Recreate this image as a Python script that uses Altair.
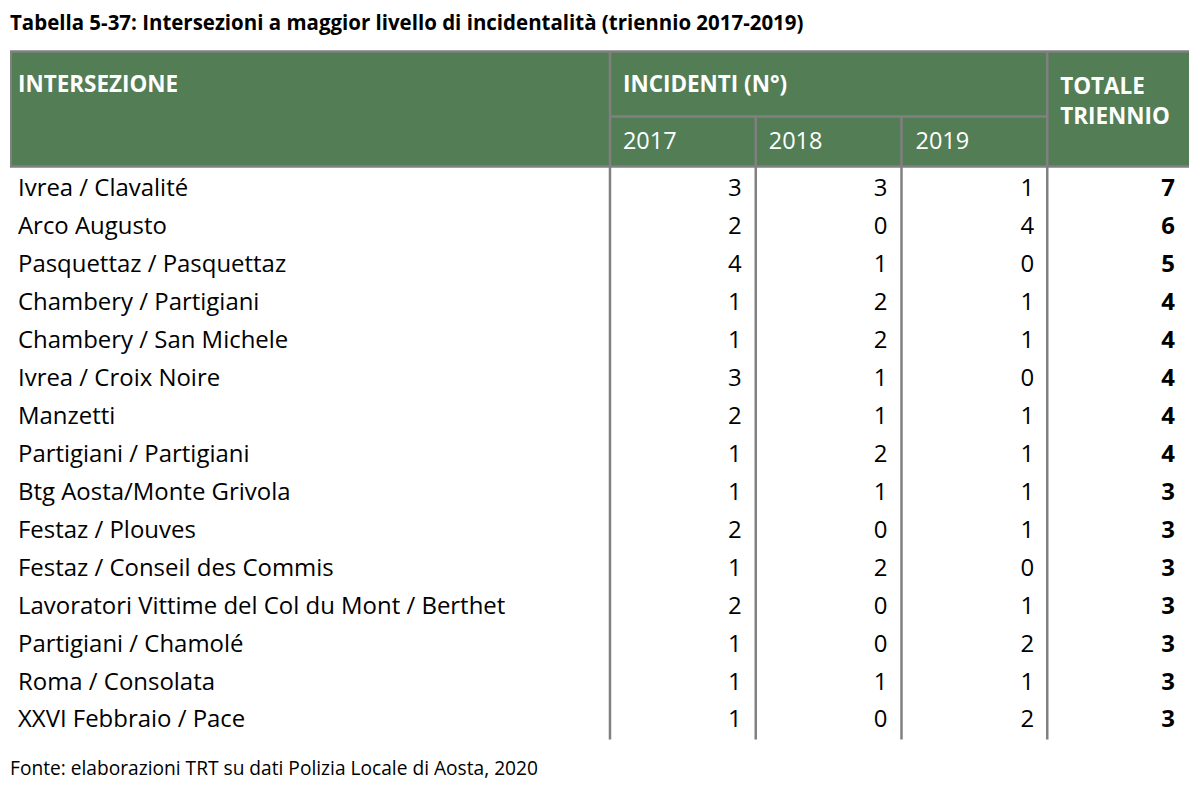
import altair as alt
import pandas as pd

# ---- data ----
intersezioni = [
    "Ivrea / Clavalité", "Arco Augusto", "Pasquettaz / Pasquettaz",
    "Chambery / Partigiani", "Chambery / San Michele", "Ivrea / Croix Noire",
    "Manzetti", "Partigiani / Partigiani", "Btg Aosta/Monte Grivola",
    "Festaz / Plouves", "Festaz / Conseil des Commis",
    "Lavoratori Vittime del Col du Mont / Berthet", "Partigiani / Chamolé",
    "Roma / Consolata", "XXVI Febbraio / Pace",
]
v2017 = [3, 2, 4, 1, 1, 3, 2, 1, 1, 2, 1, 2, 1, 1, 1]
v2018 = [3, 0, 1, 2, 2, 1, 1, 2, 1, 0, 2, 0, 0, 1, 0]
v2019 = [1, 4, 0, 1, 1, 0, 1, 1, 1, 1, 0, 1, 2, 1, 2]
totale = [7, 6, 5, 4, 4, 4, 4, 4, 3, 3, 3, 3, 3, 3, 3]
anni = ["2017", "2018", "2019"]

titolo = "Tabella 5-37: Intersezioni a maggior livello di incidentalità (triennio 2017-2019)"
fonte = "Fonte: elaborazioni TRT su dati Polizia Locale di Aosta, 2020"

# ---- style / layout ----
W, H = 1184, 778
GREEN = "#527D55"
GRID = "#808080"
FONT = "Open Sans"
LW = 2.5

df = pd.DataFrame({
    "row": list(range(len(intersezioni))),
    "nome": intersezioni,
    "a2017": v2017, "a2018": v2018, "a2019": v2019,
    "tot": totale,
})

yrow = alt.Y("row:Q", scale=alt.Scale(domain=[0, len(intersezioni) - 1], range=[181, 713]), axis=None)

base = alt.Chart(df)
one = alt.Chart(pd.DataFrame({"k": [0]}))

def rect(x, x2, y, y2, color):
    return one.mark_rect(color=color).encode(
        x=alt.value(x), x2=alt.value(x2), y=alt.value(y), y2=alt.value(y2))

def rule(x, x2, y, y2, w=LW):
    return one.mark_rule(color=GRID, strokeWidth=w).encode(
        x=alt.value(x), x2=alt.value(x2), y=alt.value(y), y2=alt.value(y2))

def label(txt, x, y, size, bold=False, color="#000000", align="left"):
    return one.mark_text(text=txt, font=FONT, fontSize=size,
                         fontWeight="bold" if bold else "normal",
                         color=color, align=align, baseline="middle").encode(
        x=alt.value(x), y=alt.value(y))

layers = [
    rect(0, 1181, 43, 158, GREEN),
    rule(0, 1181, 43, 43),
    rule(0, 1181, 158, 158),
    rule(1, 1, 43, 158, 2),
    rule(601, 1039, 108, 108),
    rule(601, 601, 43, 732),
    rule(747, 747, 108, 732),
    rule(893, 893, 108, 732),
    rule(1039, 1039, 43, 732),
    label(titolo, 0, 15, 20.5, bold=True),
    label("INTERSEZIONE", 8, 76, 22.5, bold=True, color="white"),
    label("INCIDENTI (N°)", 614, 76, 22.5, bold=True, color="white"),
    label("TOTALE", 1052, 78, 22.5, bold=True, color="white"),
    label("TRIENNIO", 1052, 109, 22.5, bold=True, color="white"),
    label(fonte, 0, 762, 19.2),
]
for a, xx in zip(anni, [614, 760, 907]):
    layers.append(label(a, xx, 134, 23.5, color="white"))

txt = dict(font=FONT, fontSize=24, baseline="middle", color="#000000")
layers.append(base.mark_text(align="left", **txt).encode(x=alt.value(8), y=yrow, text="nome:N"))
for col, xx in zip(["a2017", "a2018", "a2019"], [733, 879, 1026]):
    layers.append(base.mark_text(align="right", **txt).encode(x=alt.value(xx), y=yrow, text=f"{col}:Q"))
layers.append(base.mark_text(align="right", fontWeight="bold", **txt).encode(
    x=alt.value(1167), y=yrow, text="tot:Q"))

chart = alt.layer(*layers).properties(width=W, height=H, padding=0).configure_view(stroke=None)

chart.save("out.html", embed_options={"renderer": "svg", "actions": False})
